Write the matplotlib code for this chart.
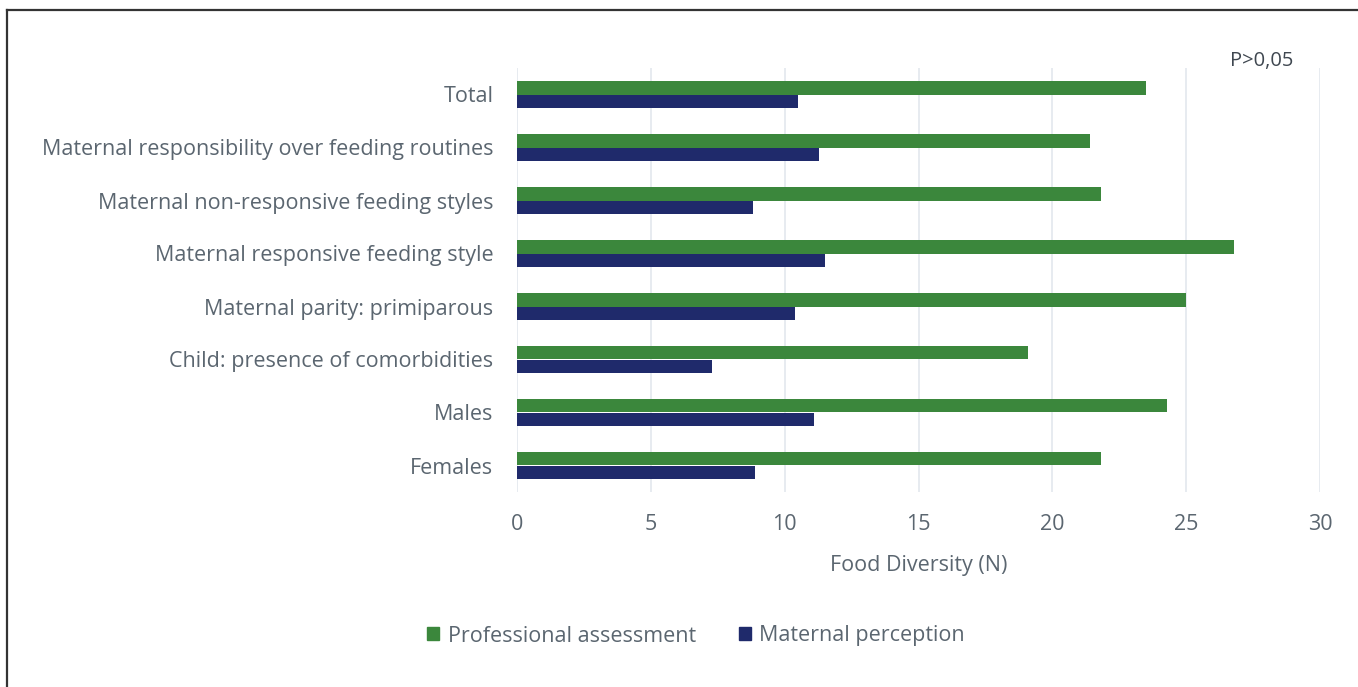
import matplotlib
matplotlib.use("Agg")
import matplotlib.pyplot as plt
import numpy as np
from matplotlib.lines import Line2D
from matplotlib.patches import Patch

categories = [
    "Total",
    "Maternal responsibility over feeding routines",
    "Maternal non-responsive feeding styles",
    "Maternal responsive feeding style",
    "Maternal parity: primiparous",
    "Child: presence of comorbidities",
    "Males",
    "Females",
]
professional = [23.5, 21.4, 21.8, 26.8, 25.0, 19.1, 24.3, 21.8]
maternal = [10.5, 11.3, 8.8, 11.5, 10.4, 7.3, 11.1, 8.9]
xticks = [0, 5, 10, 15, 20, 25, 30]

GREEN = "#3b873c"
BLUE = "#1f2a6b"
TEXT = "#5b6670"
FS = 15.5

plt.rcParams["font.family"] = ["Open Sans", "DejaVu Sans"]

W, H = 1358, 687
fig = plt.figure(figsize=(W / 100, H / 100), dpi=100)
fig.patch.set_facecolor("white")

left, right = 517 / W, 1320 / W
top, bottom = 1 - 68 / H, 1 - 492 / H
ax = fig.add_axes([left, bottom, right - left, top - bottom])

y = np.arange(len(categories))
h = 0.255
ax.barh(y - h / 2, professional, height=h, color=GREEN, zorder=3)
ax.barh(y + h / 2, maternal, height=h, color=BLUE, zorder=3)

ax.set_ylim(len(categories) - 0.5, -0.5)
ax.set_xlim(0, 30)
ax.set_xticks(xticks)
ax.set_xticklabels([str(t) for t in xticks])
ax.set_yticks(y)
ax.set_yticklabels(categories)
ax.grid(axis="x", color="#e3e8ee", linewidth=1.2, zorder=0)
for s in ax.spines.values():
    s.set_visible(False)
ax.tick_params(axis="both", length=0, colors=TEXT, labelsize=FS)
ax.tick_params(axis="y", pad=17)
ax.tick_params(axis="x", pad=16)
ax.set_xlabel("Food Diversity (N)", color=TEXT, fontsize=FS, labelpad=14)

fig.text(1262 / W, 1 - 61 / H, "P>0,05", ha="center", va="center",
         color="#3f4750", fontsize=14.5)

handles = [Patch(color=GREEN, label="Professional assessment"),
           Patch(color=BLUE, label="Maternal perception")]
fig.legend(handles=handles, loc="center", bbox_to_anchor=(696 / W, 1 - 636 / H),
           ncol=2, frameon=False, fontsize=FS, labelcolor=TEXT,
           handlelength=0.55, handleheight=0.55, handletextpad=0.4,
           columnspacing=2.0)

# frame lines along the top and left edges
fig.add_artist(Line2D([6.5 / W, 6.5 / W], [0, 1 - 10 / H], color="#333333",
                      linewidth=1.6, transform=fig.transFigure))
fig.add_artist(Line2D([6.5 / W, 1], [1 - 10 / H, 1 - 10 / H], color="#333333",
                      linewidth=1.6, transform=fig.transFigure))

fig.savefig("out.png", dpi=100)
